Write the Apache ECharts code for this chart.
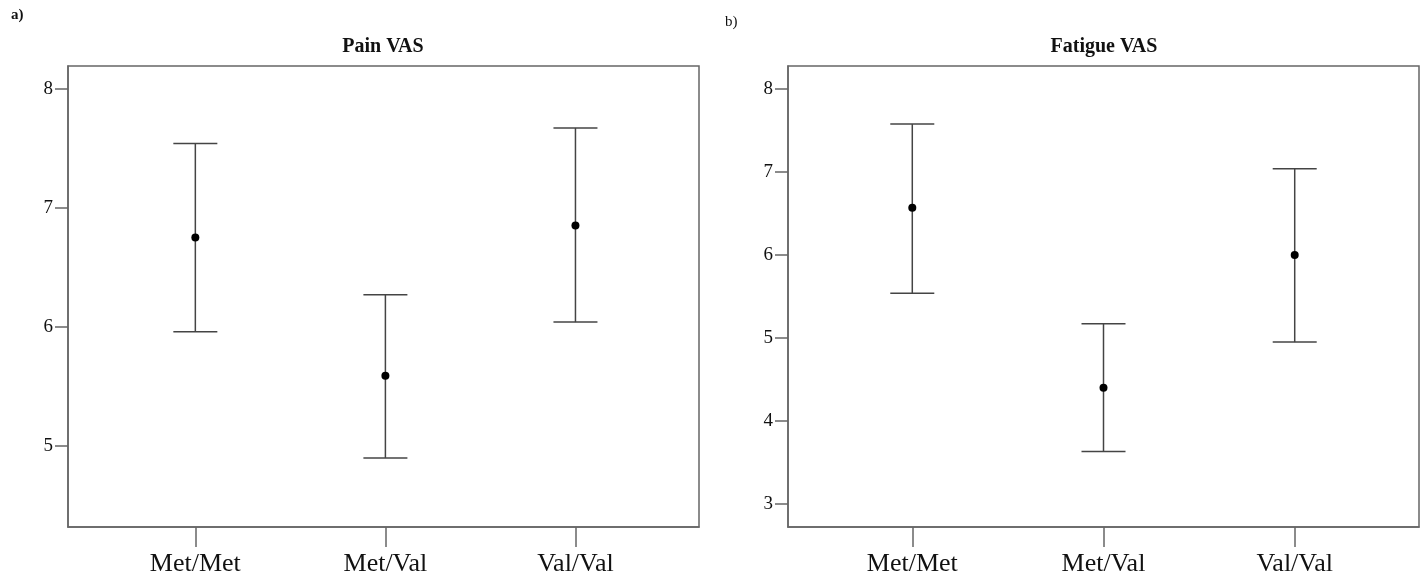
<!DOCTYPE html>
<html>
<head>
<meta charset="utf-8">
<script src="https://cdn.jsdelivr.net/npm/echarts@6/dist/echarts.min.js"></script>
<style>
  html, body { margin: 0; padding: 0; background: #fff; }
  #myChart { width: 1424px; height: 579px; }
</style>
</head>
<body>
<div id="myChart"></div>
<script>
// genotype groups
const categories = ["Met/Met", "Met/Val", "Val/Val"];

// Pain VAS: mean and error bar limits
const painMean = [6.75, 5.59, 6.85];
const painLow = [5.96, 4.90, 6.04];
const painHigh = [7.54, 6.27, 7.67];
const painTicks = [5, 6, 7, 8];

// Fatigue VAS
const fatigueMean = [6.57, 4.40, 6.00];
const fatigueLow = [5.54, 3.63, 4.95];
const fatigueHigh = [7.58, 5.17, 7.04];
const fatigueTicks = [3, 4, 5, 6, 7, 8];

const positions = [1, 2, 3];

const font = "'Liberation Serif', 'Times New Roman', serif";
const axisColor = "#666";

const barData = (low, high) => positions.map((p, i) => [p, low[i], high[i]]);
const meanData = (mean) => positions.map((p, i) => [p, mean[i]]);

function renderBar(params, api) {
  const x = api.value(0);
  const top = api.coord([x, api.value(2)]);
  const bot = api.coord([x, api.value(1)]);
  const w = 22;
  const style = { stroke: "#444", lineWidth: 1.5 };
  return {
    type: "group",
    children: [
      { type: "line", shape: { x1: top[0], y1: top[1], x2: bot[0], y2: bot[1] }, style: style },
      { type: "line", shape: { x1: top[0] - w, y1: top[1], x2: top[0] + w, y2: top[1] }, style: style },
      { type: "line", shape: { x1: bot[0] - w, y1: bot[1], x2: bot[0] + w, y2: bot[1] }, style: style }
    ]
  };
}

function xAxisFor(idx, min, max) {
  return {
    type: "value",
    gridIndex: idx,
    min: min,
    max: max,
    axisLine: { lineStyle: { color: axisColor, width: 1.5 } },
    axisTick: { customValues: positions, length: 20, lineStyle: { color: axisColor, width: 1.5 } },
    axisLabel: {
      customValues: positions,
      margin: 24,
      color: "#111",
      fontFamily: font,
      fontSize: 26,
      formatter: (v) => categories[Math.round(v) - 1]
    },
    splitLine: { show: false }
  };
}

function yAxisFor(idx, min, max, ticks) {
  return {
    type: "value",
    gridIndex: idx,
    min: min,
    max: max,
    axisLine: { show: true, lineStyle: { color: axisColor, width: 1.5 } },
    axisTick: { show: true, customValues: ticks, length: 13, lineStyle: { color: axisColor, width: 1.5 } },
    axisLabel: { customValues: ticks, margin: 15, color: "#111", fontFamily: font, fontSize: 19 },
    splitLine: { show: false }
  };
}

let myChart = echarts.init(document.getElementById("myChart"));
let option = {
  animation: false,
  backgroundColor: "#fff",
  title: [
    { text: "Pain VAS", left: 378, top: 32, textAlign: "center",
      textStyle: { fontFamily: font, fontSize: 20, fontWeight: "bold", color: "#111" } },
    { text: "Fatigue VAS", left: 1099, top: 32, textAlign: "center",
      textStyle: { fontFamily: font, fontSize: 20, fontWeight: "bold", color: "#111" } }
  ],
  graphic: [
    { type: "text", left: 11, top: 8, style: { text: "a)", font: "bold 15px " + font, fill: "#111" } },
    { type: "text", left: 725, top: 15, style: { text: "b)", font: "15px " + font, fill: "#111" } }
  ],
  grid: [
    { left: 68, top: 66, width: 631, height: 461, show: true, borderColor: axisColor, borderWidth: 1.5 },
    { left: 788, top: 66, width: 631, height: 461, show: true, borderColor: axisColor, borderWidth: 1.5 }
  ],
  xAxis: [xAxisFor(0, 0.33, 3.65), xAxisFor(1, 0.35, 3.65)],
  yAxis: [yAxisFor(0, 4.32, 8.19, painTicks), yAxisFor(1, 2.72, 8.28, fatigueTicks)],
  series: [
    { type: "custom", xAxisIndex: 0, yAxisIndex: 0, renderItem: renderBar, data: barData(painLow, painHigh) },
    { type: "scatter", xAxisIndex: 0, yAxisIndex: 0, symbolSize: 8, itemStyle: { color: "#000", opacity: 1 }, data: meanData(painMean) },
    { type: "custom", xAxisIndex: 1, yAxisIndex: 1, renderItem: renderBar, data: barData(fatigueLow, fatigueHigh) },
    { type: "scatter", xAxisIndex: 1, yAxisIndex: 1, symbolSize: 8, itemStyle: { color: "#000", opacity: 1 }, data: meanData(fatigueMean) }
  ]
};
myChart.setOption(option);

window.addEventListener("resize", () => {
  myChart.resize();
});
</script>
</body>
</html>
